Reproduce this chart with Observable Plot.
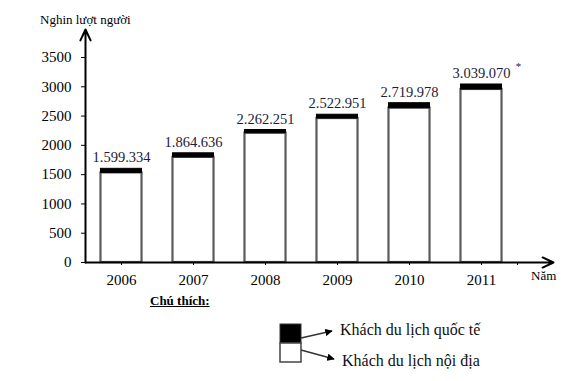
<!DOCTYPE html>
<html>
<head>
<meta charset="utf-8">
<script src="https://cdn.jsdelivr.net/npm/d3@7"></script>
<script src="https://cdn.jsdelivr.net/npm/@observablehq/plot@0.6"></script>
<style>
  html, body { margin: 0; padding: 0; background: #fff; }
  #wrap { position: relative; width: 565px; height: 381px; font-family: "Liberation Serif", "DejaVu Serif", serif; color: #000; }
  #chart { position: absolute; left: 0; top: 0; }
  .lbl { position: absolute; white-space: nowrap; font-family: "Liberation Serif", serif; }
</style>
</head>
<body>
<div id="wrap">
  <div id="chart"></div>
  <div class="lbl" style="left:40px; top:12px; font-size:13px;">Nghin lượt người</div>
  <div class="lbl" style="left:531px; top:268px; font-size:13px;">Năm</div>
  <div class="lbl" style="left:150px; top:293px; font-size:13px; font-weight:bold; text-decoration:underline;">Chú thích:</div>
  <svg id="legend" style="position:absolute; left:270px; top:318px;" width="295" height="60"></svg>
</div>
<script>
const years = [2006, 2007, 2008, 2009, 2010, 2011];
const totals = [1599.334, 1864.636, 2262.251, 2522.951, 2719.978, 3039.070];
const international = [70, 70, 55, 65, 85, 85];
const valueLabels = ["1.599.334", "1.864.636", "2.262.251", "2.522.951", "2.719.978", "3.039.070"];
const notes = ["", "", "", "", "", "*"];
const yTicks = [0, 500, 1000, 1500, 2000, 2500, 3000, 3500];
const legendLabels = ["Khách du lịch quốc tế", "Khách du lịch nội địa"];

const data = years.map((year, i) => ({
  year,
  total: totals[i],
  intl: international[i],
  domestic: totals[i] - international[i],
  label: valueLabels[i],
  note: notes[i]
}));

const xDomain = [2005.5, 2012];
const yDomain = [0, 3978];
const half = 0.285;

const plot = Plot.plot({
  width: 565,
  height: 300,
  marginLeft: 85,
  marginRight: 12,
  marginTop: 29,
  marginBottom: 38,
  style: { fontFamily: "Liberation Serif, serif", fontSize: "15px", background: "transparent" },
  x: { domain: xDomain, label: null },
  y: { domain: yDomain, label: null },
  marks: [
    Plot.rectY(data, { x1: d => d.year - half, x2: d => d.year + half, y1: 0, y2: "domestic", fill: "white", stroke: "#5a5a5a", strokeWidth: 2.2 }),
    Plot.rectY(data, { x1: d => d.year - half, x2: d => d.year + half, y1: "domestic", y2: "total", fill: "black", stroke: "black", strokeWidth: 1 }),
    Plot.text(data, { x: "year", y: "total", text: "label", dy: -11, fill: "#1c1c40", fontSize: 14.5 }),
    Plot.text(data, { x: "year", y: "total", text: "note", dx: 37, dy: -18, fill: "#1c1c40", fontSize: 11 }),
    Plot.axisY({ ticks: yTicks, tickSize: 4, tickPadding: 10, tickFormat: d => String(d), fontSize: 15 }),
    Plot.axisX({ ticks: [...years, 2011.5], tickSize: 3, tickPadding: 9, tickFormat: d => Number.isInteger(d) ? String(d) : "", fontSize: 15 }),
    Plot.arrow([{ x1: xDomain[0], y1: 0, x2: xDomain[1], y2: 0 }], { x1: "x1", y1: "y1", x2: "x2", y2: "y2", stroke: "black", strokeWidth: 2, headLength: 9, headAngle: 50 }),
    Plot.arrow([{ x1: xDomain[0], y1: 0, x2: xDomain[0], y2: yDomain[1] }], { x1: "x1", y1: "y1", x2: "x2", y2: "y2", stroke: "black", strokeWidth: 2, headLength: 9, headAngle: 50 })
  ]
});
document.getElementById("chart").appendChild(plot);

// Legend
const lg = d3.select("#legend");
lg.append("rect").attr("x", 10).attr("y", 6).attr("width", 21).attr("height", 19).attr("fill", "black").attr("stroke", "#333");
lg.append("rect").attr("x", 10).attr("y", 25).attr("width", 21).attr("height", 19).attr("fill", "white").attr("stroke", "#444").attr("stroke-width", 1.5);
const defs = lg.append("defs");
defs.append("marker").attr("id", "ah").attr("viewBox", "0 0 10 10").attr("refX", 9).attr("refY", 5)
  .attr("markerWidth", 5).attr("markerHeight", 5).attr("orient", "auto")
  .append("path").attr("d", "M0,0L10,5L0,10z").attr("fill", "black");
lg.append("line").attr("x1", 31).attr("y1", 20).attr("x2", 62).attr("y2", 13).attr("stroke", "#333").attr("stroke-width", 1.5).attr("marker-end", "url(#ah)");
lg.append("line").attr("x1", 31).attr("y1", 32).attr("x2", 64).attr("y2", 41).attr("stroke", "#333").attr("stroke-width", 1.5).attr("marker-end", "url(#ah)");
lg.selectAll("text.l").data(legendLabels).join("text").attr("class", "l")
  .attr("x", (d, i) => i === 0 ? 70 : 72).attr("y", (d, i) => i === 0 ? 17 : 48)
  .attr("font-family", "Liberation Serif, serif").attr("font-size", 16).attr("fill", "#111")
  .text(d => d);
</script>
</body>
</html>
